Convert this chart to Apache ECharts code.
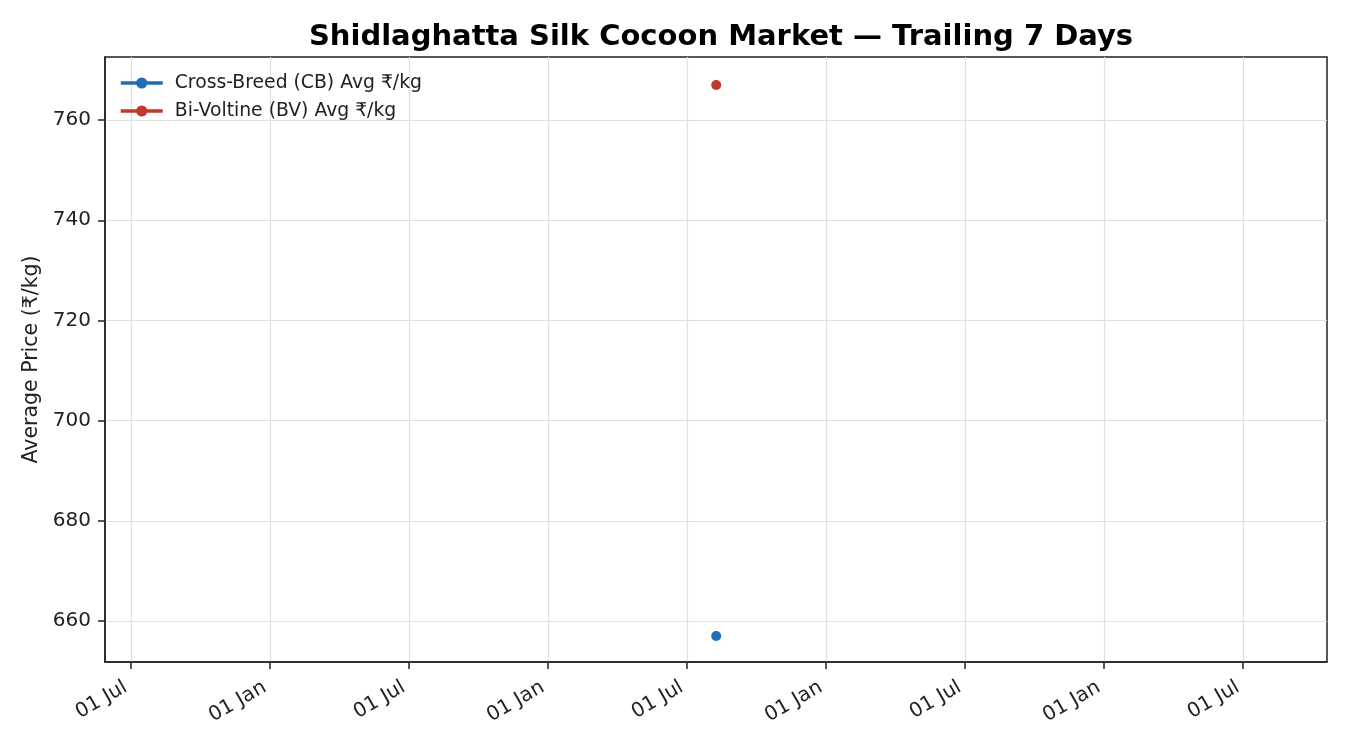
<!DOCTYPE html>
<html>
<head>
<meta charset="utf-8">
<script src="https://cdn.jsdelivr.net/npm/echarts@6/dist/echarts.min.js"></script>
<style>
html,body{margin:0;padding:0;background:#fff;}
#chart{width:1350px;height:750px;}
</style>
</head>
<body>
<div id="chart"></div>
<script>
// x positions in tick-index units (tick i is labelled xTickLabels[i])
const xTickLabels = ["01 Jul","01 Jan","01 Jul","01 Jan","01 Jul","01 Jan","01 Jul","01 Jan","01 Jul"];
const xTickValues = [0,1,2,3,4,5,6,7,8];
const yTickValues = [660,680,700,720,740,760];
const pointX = [4.21];
const cbAvg = [657];
const bvAvg = [767];
const seriesNames = ["Cross-Breed (CB) Avg ₹/kg","Bi-Voltine (BV) Avg ₹/kg"];
const seriesColors = ["#1f6db2","#c0392b"];

const font = "DejaVu Sans";
const chart = echarts.init(document.getElementById('chart'));
chart.setOption({
  backgroundColor:'#fff',
  animation:false,
  title:{
    text:"Shidlaghatta Silk Cocoon Market — Trailing 7 Days",
    left:716, top:18, textAlign:'center',
    textStyle:{fontFamily:font,fontWeight:'bold',fontSize:29,color:'#000'}
  },
  legend:{
    left:114, top:67, orient:'vertical', itemGap:6, itemWidth:42, itemHeight:14,
    lineStyle:{width:3.5},
    textStyle:{fontFamily:font,fontSize:18.8,color:'#222',lineHeight:22,padding:[0,0,0,7]},
    data:seriesNames
  },
  grid:{left:105, right:23, top:57, bottom:88, show:true, borderColor:'#222', borderWidth:1.5, containLabel:false},
  xAxis:{
    type:'value', min:-0.187, max:8.604, interval:1,
    axisLine:{show:true,onZero:false,lineStyle:{color:'#222',width:1.5}},
    axisTick:{show:true,length:7,customValues:xTickValues,lineStyle:{color:'#222',width:1.5}},
    axisLabel:{customValues:xTickValues,rotate:30,fontFamily:font,fontSize:20,color:'#222',margin:21,
      padding:[0,6,0,0],
      formatter:function(v){const i=Math.round(v);return xTickLabels[i]||'';}},
    splitLine:{show:true,lineStyle:{color:'#e0e0e0',width:1.2}}
  },
  yAxis:{
    type:'value', min:651.8, max:772.6, interval:20,
    name:"Average Price (₹/kg)", nameLocation:'middle', nameGap:62, nameRotate:90,
    nameTextStyle:{fontFamily:font,fontSize:20.5,color:'#222'},
    axisLine:{show:true,onZero:false,lineStyle:{color:'#222',width:1.5}},
    axisTick:{show:true,length:7,customValues:yTickValues,lineStyle:{color:'#222',width:1.5}},
    axisLabel:{customValues:yTickValues,fontFamily:font,fontSize:20,color:'#222',margin:14},
    splitLine:{show:true,lineStyle:{color:'#e0e0e0',width:1.2}}
  },
  series:[
    {name:seriesNames[0],type:'line',data:pointX.map((x,i)=>[x,cbAvg[i]]),
     color:seriesColors[0],symbol:'circle',symbolSize:10,showSymbol:true,lineStyle:{width:3.5}},
    {name:seriesNames[1],type:'line',data:pointX.map((x,i)=>[x,bvAvg[i]]),
     color:seriesColors[1],symbol:'circle',symbolSize:10,showSymbol:true,lineStyle:{width:3.5}}
  ]
});
</script>
</body>
</html>
